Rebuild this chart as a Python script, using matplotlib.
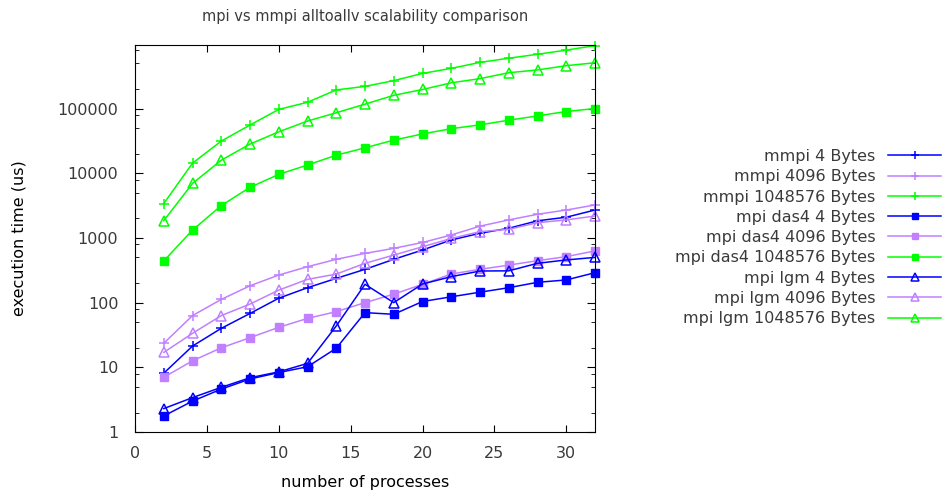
import matplotlib
matplotlib.use("Agg")
import matplotlib.pyplot as plt
from matplotlib.ticker import LogLocator, FixedLocator, NullFormatter

# number of processes
procs = [2, 4, 6, 8, 10, 12, 14, 16, 18, 20, 22, 24, 26, 28, 30, 32]

# execution time (us)
mmpi_4 = [8.1, 21.3, 40, 68, 117, 170, 237, 327, 467, 650, 930, 1180, 1410, 1840, 2090, 2700]
mmpi_4096 = [23.5, 63, 112, 182, 267, 359, 467, 577, 690, 850, 1110, 1520, 1900, 2320, 2700, 3230]
mmpi_1m = [3400, 14300, 31400, 55600, 97000, 125000, 194000, 220000, 270000, 349000,
           418000, 517000, 600000, 690000, 800000, 940000]
das4_4 = [1.77, 3.0, 4.6, 6.6, 8.3, 10.2, 19.7, 70, 66, 104, 123, 145, 170, 206, 224, 290]
das4_4096 = [7.0, 12.6, 20, 28.7, 41.5, 57, 72.5, 100, 135, 192, 277, 327, 380, 445, 514, 630]
das4_1m = [440, 1320, 3160, 6050, 9600, 13400, 19000, 24700, 32500, 40500, 48800,
           56000, 66000, 77000, 90000, 100000]
lgm_4 = [2.3, 3.4, 4.9, 6.9, 8.5, 11.5, 43.5, 192, 100, 194, 252, 308, 310, 405, 457, 500]
lgm_4096 = [17, 33.5, 63, 95, 156, 229, 276, 405, 543, 730, 980, 1250, 1360, 1720, 1900, 2180]
lgm_1m = [1850, 6950, 15900, 28200, 43700, 64000, 86000, 117000, 160000, 197000,
          250000, 290000, 358000, 395000, 460000, 510000]

BLUE = "#0000ff"
PURPLE = "#c080ff"
GREEN = "#00ff00"
TEXT = "#3a3a3a"

series = [
    ("mmpi 4 Bytes", mmpi_4, BLUE, "+"),
    ("mmpi 4096 Bytes", mmpi_4096, PURPLE, "+"),
    ("mmpi 1048576 Bytes", mmpi_1m, GREEN, "+"),
    ("mpi das4 4 Bytes", das4_4, BLUE, "s"),
    ("mpi das4 4096 Bytes", das4_4096, PURPLE, "s"),
    ("mpi das4 1048576 Bytes", das4_1m, GREEN, "s"),
    ("mpi lgm 4 Bytes", lgm_4, BLUE, "^"),
    ("mpi lgm 4096 Bytes", lgm_4096, PURPLE, "^"),
    ("mpi lgm 1048576 Bytes", lgm_1m, GREEN, "^"),
]

plt.rcParams["font.family"] = "DejaVu Sans"
plt.rcParams["text.color"] = TEXT

fig = plt.figure(figsize=(9.42, 4.93), dpi=100)
ax = fig.add_axes([135 / 942, 61 / 493, 460 / 942, 387 / 493])

for label, vals, color, marker in series:
    kw = dict(color=color, lw=1.1, marker=marker, label=label, clip_on=False)
    if marker == "+":
        kw.update(ms=7, mew=1.1)
    elif marker == "s":
        kw.update(ms=5.5, mfc=color, mec=color)
    else:
        kw.update(ms=6.5, mfc="none", mec=color, mew=1.1)
    ax.plot(procs, vals, **kw)

ax.set_yscale("log")
ax.set_xlim(0, 32)
ax.set_ylim(1, 9.6e5)
ax.xaxis.set_major_locator(FixedLocator([0, 5, 10, 15, 20, 25, 30]))
ax.yaxis.set_minor_locator(LogLocator(base=10, subs=(2, 5, 8)))
ax.yaxis.set_minor_formatter(NullFormatter())
ax.set_yticks([1, 10, 100, 1000, 10000, 100000])
ax.set_yticklabels(["1", "10", "100", "1000", "10000", "100000"])

ax.tick_params(which="both", direction="in", top=True, right=True,
               labelsize=11.5, labelcolor=TEXT)
ax.tick_params(axis="x", which="major", length=5, pad=10)
ax.tick_params(axis="y", which="major", length=6, pad=12)
ax.tick_params(which="minor", length=3)

ax.set_title("mpi vs mmpi alltoallv scalability comparison", fontsize=10.5,
             pad=17, color=TEXT)
ax.set_xlabel("number of processes", fontsize=11.5, labelpad=10)
ax.set_ylabel("execution time (us)", fontsize=11.5, labelpad=22)

leg = fig.legend(loc="upper right", bbox_to_anchor=(941 / 942, (493 - 149) / 493),
                 frameon=False, markerfirst=False, fontsize=11.5, numpoints=1,
                 handlelength=3.3, handletextpad=0.8, labelspacing=0.33,
                 borderpad=0, borderaxespad=0)
for h in leg.legend_handles:
    h.set_markersize(h.get_markersize() * 0.8)

fig.savefig("out.png", dpi=100)
